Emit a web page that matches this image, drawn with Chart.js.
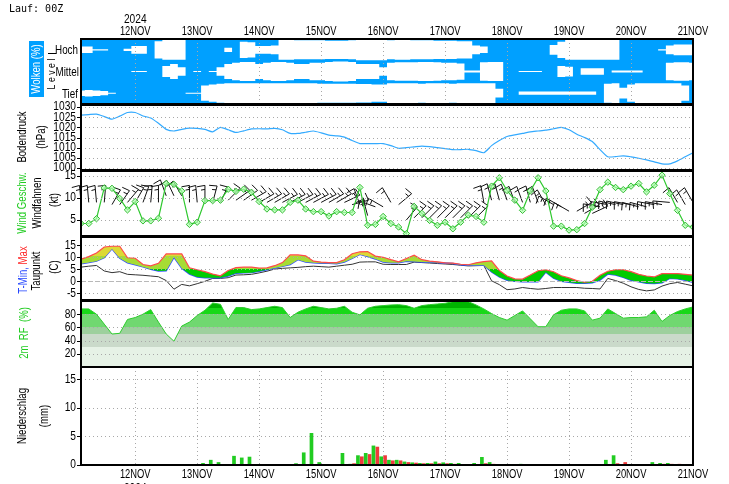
<!DOCTYPE html>
<html>
<head>
<meta charset="utf-8">
<script src="https://cdn.jsdelivr.net/npm/chart.js@4.4.1/dist/chart.umd.min.js"></script>
<style>
html, body { margin: 0; padding: 0; background: #fff; }
#wrap { position: relative; width: 729px; height: 484px; overflow: hidden; }
canvas { position: absolute; left: 0; }
</style>
</head>
<body>
<div id="wrap"></div>
<script>
// -------------------------
// Data (3-hourly steps, hours after 12NOV 00Z)
// -------------------------
const hours = [];
for (let h = -21; h <= 216; h += 3) hours.push(h);

const dayHours = [0, 24, 48, 72, 96, 120, 144, 168, 192, 216];
const dayLabels = ['12NOV', '13NOV', '14NOV', '15NOV', '16NOV', '17NOV', '18NOV', '19NOV', '20NOV', '21NOV'];

// cloud cover (%) per level
const cloudHigh = [70,70,95,95,100,100,90,65,65,100, 20,8,8,8,100,100,100,100,100,80,
  100,25,30,65,65,60,8,8,12,12, 12,12,15,15,15,12,5,5,5,5,
  12,8,8,12,12,12,15,15,15,20, 20,60,70,100,100,100,100,100,100,100,
  100,55,25,8,8,8,8,8,8,8, 100,100,100,100,100,95,60,50,50,50];
const cloudMid = [100,100,100,100,100,100,100,95,95,100, 100,50,30,60,100,95,100,95,60,30,
  20,12,12,30,20,12,12,20,30,30, 20,20,12,8,8,12,30,30,30,60,
  20,15,15,15,12,12,15,20,20,25, 90,90,15,12,12,100,100,95,95,95,
  100,100,50,55,100,70,70,70,100,90, 90,90,90,100,100,100,20,15,15,20];
const cloudLow = [75,70,75,80,95,100,100,100,100,100, 100,100,100,100,95,95,30,20,12,8,
  8,8,8,8,8,8,8,8,8,8, 8,12,12,12,12,12,15,15,20,20,
  8,8,8,8,12,8,8,8,12,8, 8,8,8,8,60,100,100,85,85,85,
  85,85,85,85,85,85,85,100,12,8, 50,20,8,8,8,8,8,8,30,100];

// surface pressure (hPa)
const pressure = [1026,1026.3,1026.5,1025.3,1024,1025.5,1027.3,1027.3,1025.6,1024.6,
  1022,1019,1018.2,1019,1019.6,1019.5,1019,1017.8,1020,1018.8,
  1017.5,1018.3,1019.2,1019.3,1019.2,1019.5,1018.8,1017,1017,1017.6,
  1018.2,1017.3,1016.2,1015.8,1015.2,1013.5,1012,1012,1012,1012,
  1011,1009.7,1010,1010.4,1010.8,1010.5,1010,1009.5,1009,1009,
  1009.2,1008.5,1007.5,1011,1013.5,1015.5,1016.3,1017,1017.8,1018.2,
  1018.6,1019.3,1020,1018.8,1016.6,1015,1013,1009,1005.5,1005.6,
  1006,1005.5,1004.8,1004,1003,1002,1002,1003.5,1005.5,1007.5];

// wind speed (kt) and wind vanes
const windSpd = [4.2,4.2,5.3,12.3,12.2,9.9,7.3,9.2,4.8,4.8,
  5.4,13.3,13.1,11.6,4.0,4.5,9.4,9.4,9.5,12.0,
  11.5,12.0,11.3,9.2,7.5,7.3,7.3,9.0,9.5,7.5,
  6.9,6.9,5.9,6.9,6.7,6.7,12.4,3.8,4.0,5.8,
  4.2,3.4,1.9,8.1,6.5,4.9,3.8,4.5,3.0,4.5,
  6.1,5.8,4.5,12.7,14.6,11.7,9.5,7.2,11.6,14.6,
  11.6,3.6,3.6,2.7,2.8,4.2,7.9,11.9,13.6,12.4,
  11.9,12.7,13.3,11.4,12.9,15.2,11.0,7.2,3.8,3.4];
const barbLevel = [9,9,9,9,8.5,8.5,9,9,9,9, 9,10.5,10.5,10.5,9,9,9,9,9,9.5,
  9.5,9.5,9.5,9,9,9,9,9,9,9, 9,9,9,9,9,8.5,8.5,6,8,8,
  9,8.5,5,5.5,5.5,5.5,5.5,5.5,5.5,5.5, 5.5,5.5,9,9.5,9.5,9.5,9,9,9,9,
  8.5,8.5,8,7,7,6.5,6.5,8,8.5,8.5, 8.5,8.5,8,8,8.5,8.5,9,9,8.5,9];
const barbDir = [355,355,355,5,30,35,40,30,20,5, 0,340,335,330,0,355,0,15,25,45,
  55,55,60,60,60,60,62,62,62,62, 62,62,60,60,65,75,340,345,290,300,
  330,50,40,45,45,45,45,45,45,45, 45,45,350,345,345,340,340,340,345,340,
  330,300,300,300,60,60,65,280,280,282, 282,280,285,285,280,280,275,330,330,330];

// temperatures (C)
const tMax = [9.2,10.3,11.8,14.3,14.6,14.6,9.8,9.6,7.0,6.4,
  7.5,11.4,11.4,11.4,5.6,4.8,4.0,3.0,2.3,4.5,
  5.7,5.9,5.9,5.5,5.6,6.5,7.8,11.0,11.0,10.6,
  8.4,8.0,7.8,7.8,9.0,11.5,12.3,12.4,10.5,10.0,
  9.0,8.1,9.5,10.9,9.0,8.4,8.1,7.7,7.6,7.1,
  6.9,7.7,8.2,8.5,4.5,2.2,1.0,0.9,2.6,4.4,
  4.8,4.0,2.3,1.4,0.3,-0.4,0.0,2.5,4.2,4.8,
  4.8,4.0,2.9,2.2,1.8,3.2,3.2,3.2,2.9,2.6];
const tMin = [7.3,7.8,8.4,9.8,13.5,9.6,7.7,6.9,6.0,5.0,
  4.3,4.4,10.0,5.4,3.0,1.8,1.5,1.5,1.5,2.2,
  3.3,3.5,3.6,4.2,4.8,5.5,6.2,7.0,9.0,8.0,
  7.7,7.5,7.5,7.3,8.0,9.5,11.2,10.3,9.3,8.0,
  7.7,7.7,8.3,8.2,8.0,7.9,7.8,7.6,7.4,6.9,
  6.7,6.7,6.7,3.9,1.8,0.4,0.0,-0.2,-0.2,-0.2,
  3.8,1.3,0.0,-0.4,-0.8,-0.8,-0.6,0.5,3.0,2.6,
  1.6,0.4,-0.2,-0.8,-0.9,-0.6,1.2,1.0,0.4,-0.4];
const tDew = [5.9,6.3,6.6,4.3,3.6,4.0,2.9,2.7,2.5,2.2,
  1.9,0.3,-3.3,-1.3,-1.9,-1.0,0.0,1.2,1.2,1.5,
  2.6,2.7,2.9,3.5,4.2,5.1,5.4,5.6,5.8,6.1,
  6.3,6.1,5.9,6.3,6.7,7.1,8.0,8.1,8.1,7.1,
  7.0,7.0,7.0,8.0,7.8,7.6,7.4,7.2,7.0,6.7,
  6.4,6.5,6.6,0.2,-1.4,-3.5,-3.2,-2.6,-3.0,-3.3,
  -3.0,-2.6,-2.6,-2.6,-2.6,-2.9,-3.0,-3.2,1.2,0.3,
  -0.8,-2.3,-3.4,-4.0,-3.6,-2.0,-1.0,-0.5,-1.2,-1.9];

// 2m relative humidity (%)
const relHum = [88,88,80,65,50,51,72,75,80,87,
  68,50,39,62,68,78,86,97,95,72,
  90,90,87,88,90,92,90,75,83,88,
  92,90,88,89,92,83,79,89,92,93,
  94,94.4,93,89,93,94.5,95.5,96.5,99,99.4,
  99,94,88,81,75,71,78,85,73,61,
  61,79,86,88,88,85,71,74,88,81,
  74,75,75,76,86,69,78,84,88,91];

// precipitation (mm / 3h)
const precipGreen = [0,0,0,0,0,0,0,0,0,0,
  0,0,0,0,0,0,0.35,0.9,0.5,0,
  1.6,1.3,1.45,0,0,0,0,0,0.3,2.2,
  5.6,0.5,0,0,2.1,0.2,1.7,2.1,3.4,1.5,
  0.9,0.9,0.6,0.45,0.35,0.35,0.6,0.45,0.35,0.35,
  0,0.35,1.4,0.5,0,0,0,0.2,0,0,
  0,0,0,0,0,0,0,0,0.9,1.7,
  0,0,0,0,0.5,0.35,0.35,0,0,0];
const precipRed = [0,0,0,0,0,0,0,0,0,0,
  0,0,0,0,0,0,0,0,0,0.1,
  0,0,0,0,0,0,0,0,0,0,
  0,0,0.1,0.15,0,0.3,1.5,1.9,3.2,1.7,
  0.8,0.8,0.5,0.4,0.3,0.3,0.3,0.3,0.2,0.1,
  0,0.1,0.3,0.2,0,0,0,0,0,0.1,
  0,0,0,0,0,0,0,0,0,0.3,
  0.5,0,0,0,0,0.2,0.2,0.2,0,0];

// tick labels
const pressTicks = [1000, 1005, 1010, 1015, 1020, 1025, 1030];
const windTicks = [5, 10, 15];
const tempTicks = [-5, 0, 5, 10, 15];
const rhTicks = [20, 40, 60, 80];
const precipTicks = [0, 5, 10, 15];

// -------------------------
// Helpers
// -------------------------
const FONT = '"Liberation Sans Narrow", "Liberation Sans", Arial, sans-serif';
const NARROW = 0.8;
const wrap = document.getElementById('wrap');

function mkCanvas(top, height) {
    const c = document.createElement('canvas');
    c.width = 729;
    c.height = height;
    c.style.top = top + 'px';
    wrap.appendChild(c);
    return c;
}

function pts(arr) {
    return hours.map((h, i) => ({ x: h, y: arr[i] }));
}

function baseOptions(padTop, padBottom, yMin, yMax) {
    return {
        responsive: false,
        animation: false,
        events: [],
        devicePixelRatio: 1,
        layout: { padding: { left: 81, right: 36, top: padTop, bottom: padBottom } },
        plugins: { legend: { display: false }, tooltip: { enabled: false } },
        scales: {
            x: { type: 'linear', min: -21, max: 216, offset: false, display: false },
            y: { min: yMin, max: yMax, display: false }
        }
    };
}

// horizontally condensed text
function hText(ctx, text, x, y, align, size, color, sx) {
    ctx.save();
    ctx.translate(x, y);
    ctx.scale(sx || NARROW, 1);
    ctx.font = (size || 12) + 'px ' + FONT;
    ctx.fillStyle = color || '#000';
    ctx.textAlign = align || 'left';
    ctx.textBaseline = 'middle';
    ctx.fillText(text, 0, 0);
    ctx.restore();
}

function vText(ctx, x, y, parts, size, sx) {
    ctx.save();
    ctx.translate(x, y);
    ctx.rotate(-Math.PI / 2);
    ctx.scale(sx || NARROW, 1);
    ctx.font = (size || 12) + 'px ' + FONT;
    ctx.textBaseline = 'middle';
    ctx.textAlign = 'left';
    const total = parts.reduce((s, p) => s + ctx.measureText(p[0]).width, 0);
    let cx = -total / 2;
    parts.forEach(p => {
        ctx.fillStyle = p[1];
        ctx.fillText(p[0], cx, 0);
        cx += ctx.measureText(p[0]).width;
    });
    ctx.restore();
}

// bands of flat colour along the y scale
function bandFill(context, bands) {
    const chart = context.chart;
    const { ctx, chartArea, scales } = chart;
    if (!chartArea) return 'rgba(0,0,0,0)';
    const y = scales.y;
    const g = ctx.createLinearGradient(0, y.getPixelForValue(y.min), 0, y.getPixelForValue(y.max));
    const span = y.max - y.min;
    const cl = v => Math.min(1, Math.max(0, (v - y.min) / span));
    bands.forEach(b => {
        g.addColorStop(cl(b[0]), b[2]);
        g.addColorStop(cl(b[1]), b[2]);
    });
    return g;
}

function panelPlugin(cfg) {
    return {
        id: 'panel',
        beforeDatasetsDraw(chart) {
            const { ctx, chartArea: a } = chart;
            if (cfg.bg) {
                ctx.save();
                ctx.fillStyle = cfg.bg;
                ctx.fillRect(a.left, a.top, a.right - a.left, a.bottom - a.top);
                ctx.restore();
            }
            if (cfg.before) cfg.before(chart);
        },
        afterDatasetsDraw(chart) {
            const { ctx, chartArea: a, scales: { x, y } } = chart;
            ctx.save();
            ctx.lineWidth = 1;
            ctx.strokeStyle = '#a8a8a8';
            ctx.setLineDash([1, 3]);
            (cfg.grid || []).forEach(v => {
                const py = Math.round(y.getPixelForValue(v)) + 0.5;
                ctx.beginPath(); ctx.moveTo(a.left, py); ctx.lineTo(a.right, py); ctx.stroke();
            });
            if (cfg.vgrid) {
                dayHours.forEach(h => {
                    if (h >= x.max) return;
                    const px = Math.round(x.getPixelForValue(h)) + 0.5;
                    ctx.beginPath(); ctx.moveTo(px, a.top); ctx.lineTo(px, a.bottom); ctx.stroke();
                });
            }
            if (cfg.zero !== undefined) {
                ctx.strokeStyle = '#b8b8b8';
                ctx.setLineDash([5, 2]);
                const py = Math.round(y.getPixelForValue(cfg.zero)) + 0.5;
                ctx.beginPath(); ctx.moveTo(a.left, py); ctx.lineTo(a.right, py); ctx.stroke();
            }
            ctx.setLineDash([]);
            ctx.strokeStyle = '#000';
            (cfg.ticks || []).forEach(v => {
                const py = y.getPixelForValue(v);
                hText(ctx, String(v), 76, py, 'right', 12, '#000', 0.85);
                ctx.beginPath(); ctx.moveTo(77, Math.round(py) + 0.5); ctx.lineTo(81, Math.round(py) + 0.5); ctx.stroke();
            });
            ctx.lineWidth = 2;
            ctx.strokeRect(a.left, a.top, a.right - a.left, a.bottom - a.top);
            ctx.translate(0, -cfg.top);
            (cfg.titles || []).forEach(t => vText(ctx, t[0], t[1], t[2]));
            if (cfg.after) cfg.after(chart, ctx);
            ctx.restore();
        }
    };
}

function dateRow(ctx, x, yPage) {
    dayHours.forEach((h, i) => hText(ctx, dayLabels[i], x.getPixelForValue(h), yPage, 'center', 12, '#000', 0.78));
}

// -------------------------
// Clouds
// -------------------------
const cloudSets = [];
[[cloudHigh, 2.5], [cloudMid, 1.5], [cloudLow, 0.5]].forEach(([cov, c]) => {
    cloudSets.push({
        data: hours.map((h, i) => ({ x: h, y: c + (100 - cov[i]) / 100 * 0.5 })),
        stepped: 'middle', fill: '+1', backgroundColor: '#ffffff',
        borderColor: 'rgba(0,0,0,0)', borderWidth: 0, pointRadius: 0
    });
    cloudSets.push({
        data: hours.map((h, i) => ({ x: h, y: c - (100 - cov[i]) / 100 * 0.5 })),
        stepped: 'middle', fill: false,
        borderColor: 'rgba(0,0,0,0)', borderWidth: 0, pointRadius: 0
    });
});

new Chart(mkCanvas(0, 114), {
    type: 'line',
    data: { datasets: cloudSets },
    options: baseOptions(39, 10, 0, 3),
    plugins: [panelPlugin({
        top: 0, bg: '#00a0ff', vgrid: true,
        after(chart, ctx) {
            const x = chart.scales.x;
            ctx.font = '10px "DejaVu Sans Mono", monospace';
            ctx.fillStyle = '#000';
            ctx.textAlign = 'left';
            ctx.textBaseline = 'middle';
            ctx.fillText('Lauf: 00Z', 9, 9);
            hText(ctx, '2024', x.getPixelForValue(0), 20, 'center', 12, '#000', 0.85);
            dateRow(ctx, x, 32);
            ctx.fillStyle = '#00a0ff';
            ctx.fillRect(29, 41, 15, 56);
            vText(ctx, 37, 69, [['Wolken (%)', '#ffffff']]);
            vText(ctx, 52, 74, [['L e v e l', '#000']], 11);
            ctx.strokeStyle = '#000';
            ctx.lineWidth = 1;
            ctx.beginPath(); ctx.moveTo(48, 53.5); ctx.lineTo(56, 53.5); ctx.stroke();
            hText(ctx, 'Hoch', 78, 51, 'right', 12, '#000', 0.82);
            hText(ctx, 'Mittel', 79, 73, 'right', 12, '#000', 0.82);
            hText(ctx, 'Tief', 78, 95, 'right', 12, '#000', 0.82);
        }
    })]
});

// -------------------------
// Pressure
// -------------------------
new Chart(mkCanvas(95, 85), {
    type: 'line',
    data: { datasets: [{ data: pts(pressure), borderColor: '#33aaff', borderWidth: 1.2, pointRadius: 0, tension: 0.2 }] },
    options: baseOptions(10, 10, 999, 1031),
    plugins: [panelPlugin({
        top: 95, grid: pressTicks, ticks: pressTicks,
        titles: [[23, 137, [['Bodendruck', '#000']]], [42, 137, [['(hPa)', '#000']]]]
    })]
});

// -------------------------
// Wind
// -------------------------
function drawBarbs(chart) {
    const { ctx, scales: { x, y } } = chart;
    ctx.save();
    ctx.strokeStyle = '#111';
    ctx.lineWidth = 1;
    ctx.beginPath();
    hours.forEach((h, i) => {
        const bx = x.getPixelForValue(h), by = y.getPixelForValue(barbLevel[i]);
        const a = barbDir[i] * Math.PI / 180;
        const dx = Math.sin(a), dy = -Math.cos(a);
        const len = 17;
        const tx = bx + dx * len, ty = by + dy * len;
        const f = a - 100 * Math.PI / 180;
        const fx = Math.sin(f), fy = -Math.cos(f);
        ctx.moveTo(bx, by); ctx.lineTo(tx, ty);
        ctx.moveTo(tx, ty); ctx.lineTo(tx + fx * 8, ty + fy * 8);
        const hx = bx + dx * (len - 4), hy = by + dy * (len - 4);
        ctx.moveTo(hx, hy); ctx.lineTo(hx + fx * 4, hy + fy * 4);
    });
    ctx.stroke();
    ctx.restore();
}

new Chart(mkCanvas(161, 85), {
    type: 'line',
    data: { datasets: [{
        data: pts(windSpd), borderColor: '#2ec82e', borderWidth: 1.2,
        pointStyle: 'rectRot', pointRadius: 3.2, pointBorderWidth: 1,
        pointBorderColor: '#33bb33', pointBackgroundColor: 'rgba(180,255,180,0.7)'
    }] },
    options: baseOptions(10, 10, 1.36, 16.14),
    plugins: [panelPlugin({
        top: 161, grid: windTicks, ticks: windTicks, before: drawBarbs,
        titles: [[23, 203, [['Wind Geschw.', '#22cc22']]], [38, 203, [['Windfahnen', '#000']]], [55, 200, [['(kt)', '#000']]]]
    })]
});

// -------------------------
// Temperature
// -------------------------
const tempBands = [[-10, 5, '#00cc00'], [5, 10.5, '#a6dc34'], [10.5, 20, '#dcd836']];
new Chart(mkCanvas(227, 83), {
    type: 'line',
    data: { datasets: [
        { data: pts(tMax), borderColor: '#ff4a4a', borderWidth: 1.2, pointRadius: 0, fill: '+1',
          backgroundColor: ctx => bandFill(ctx, tempBands) },
        { data: pts(tMin), borderColor: '#3050ff', borderWidth: 1.4, pointRadius: 0, fill: false },
        { data: pts(tDew), borderColor: '#333333', borderWidth: 1, pointRadius: 0, fill: false }
    ] },
    options: baseOptions(10, 10, -7.8, 18.46),
    plugins: [panelPlugin({
        top: 227, grid: [-5, 5, 10, 15], zero: 0, ticks: tempTicks,
        titles: [[24, 270, [['T-Min, ', '#2244ff'], ['Max', '#ff2222']]], [37, 271, [['Taupunkt', '#000']]], [55, 267, [['(C)', '#000']]]]
    })]
});

// -------------------------
// Relative humidity
// -------------------------
const rhBands = [[0, 30, '#e6f2e6'], [30, 50, '#cadaca'], [50, 60, '#9dd09d'], [60, 80, '#70d870'], [80, 90, '#18d818'], [90, 100, '#00b400']];
new Chart(mkCanvas(291, 86), {
    type: 'line',
    data: { datasets: [
        { data: pts(relHum), borderColor: '#2ecc2e', borderWidth: 1, pointRadius: 0, fill: 'origin',
          backgroundColor: ctx => bandFill(ctx, rhBands) }
    ] },
    options: baseOptions(10, 10, 0, 100),
    plugins: [panelPlugin({
        top: 291, grid: rhTicks, ticks: rhTicks,
        titles: [[25, 333, [['2m  RF  (%)', '#22cc22']]]]
    })]
});

// -------------------------
// Precipitation
// -------------------------
const precipOpts = baseOptions(10, 19, 0, 17.15);
precipOpts.datasets = { bar: { categoryPercentage: 1.0, barPercentage: 0.95 } };
new Chart(mkCanvas(357, 127), {
    type: 'bar',
    data: { datasets: [
        { data: pts(precipGreen), backgroundColor: '#22cc22' },
        { data: pts(precipRed), backgroundColor: '#ee3a3a' }
    ] },
    options: precipOpts,
    plugins: [panelPlugin({
        top: 357, grid: [5, 10, 15], vgrid: true, ticks: precipTicks,
        titles: [[23, 416, [['Niederschlag', '#000']]], [45, 416, [['(mm)', '#000']]]],
        after(chart, ctx) {
            const x = chart.scales.x;
            dateRow(ctx, x, 475);
            hText(ctx, '2024', x.getPixelForValue(0), 489, 'center', 12, '#000', 0.85);
        }
    })]
});
</script>
</body>
</html>
